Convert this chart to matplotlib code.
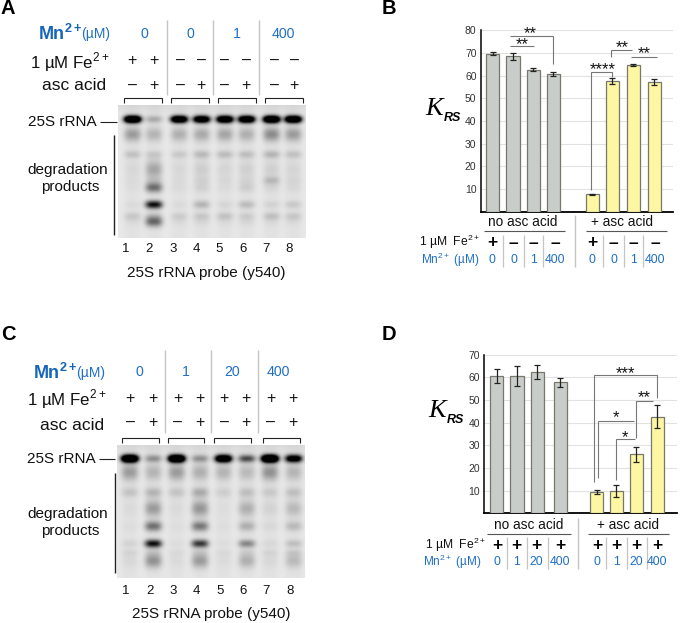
import numpy as np
import matplotlib
matplotlib.use("Agg")
import matplotlib.pyplot as plt

plt.rcParams['font.family'] = ['Liberation Sans', 'DejaVu Sans']
plt.rcParams['mathtext.fontset'] = 'custom'
plt.rcParams['mathtext.rm'] = 'Liberation Sans'
plt.rcParams['mathtext.bf'] = 'Liberation Sans:bold'

BLUE = '#1f6fc4'
GRAY = '#c9cdc9'
YELLOW = '#fdf6a2'

# bar values
b_vals = [69.7, 68.5, 62.7, 60.8, 7.7, 57.6, 64.8, 57.2]
b_errs = [0.7, 1.4, 0.5, 0.9, 0.2, 1.4, 0.5, 1.2]
b_x = [493, 513, 533, 553, 592, 612, 633.3, 654]
d_vals = [60.5, 60.5, 62.3, 57.8, 9.3, 9.7, 26, 42.7]
d_errs = [3.0, 4.4, 3.2, 2.1, 0.9, 2.7, 3.4, 5.1]
d_x = [497, 517, 537, 560, 596.7, 616, 636, 657]

# tick labels
b_fe = ['+', '–', '–', '–', '+', '–', '–', '–']
b_mn = ['0', '0', '1', '400', '0', '0', '1', '400']
d_fe = ['+'] * 8
d_mn = ['0', '1', '20', '400', '0', '1', '20', '400']
a_fe = ['+', '+', '–', '–', '–', '–', '–', '–']
c_fe = ['+'] * 8
asc = ['–', '+'] * 4
a_mn = ['0', '0', '1', '400']
c_mn = ['0', '1', '20', '400']
lanes = ['1', '2', '3', '4', '5', '6', '7', '8']

# gel band rows: y position, thickness
a_rows = [(120, 3.6), (135, 7), (155, 4), (170, 9), (181, 4), (188, 5), (205, 4), (216.5, 4), (222, 5)]
a_bands = [
    [1.7, .28, .13, .04, .02, .02, .03, .10, .03],
    [.22, .18, .10, .24, .06, .46, .85, .10, .48],
    [1.5, .20, .10, .04, .02, .03, .03, .08, .03],
    [1.4, .22, .16, .08, .05, .07, .18, .10, .04],
    [1.5, .24, .15, .05, .03, .03, .05, .12, .03],
    [1.5, .20, .14, .07, .04, .08, .15, .08, .04],
    [1.7, .34, .18, .07, .15, .05, .06, .13, .03],
    [1.6, .28, .13, .05, .04, .04, .10, .10, .03],
]
c_rows = [(459.3, 3.8), (473, 8), (493, 5), (509, 8), (526.7, 5), (544, 4), (553, 3.5), (561, 7)]
c_bands = [
    [1.8, .28, .12, .03, .02, .06, .05, .04],
    [.32, .18, .18, .28, .45, .85, .06, .32],
    [1.8, .28, .12, .03, .02, .02, .03, .03],
    [.32, .20, .22, .30, .42, .68, .06, .28],
    [1.5, .18, .08, .02, .02, .02, .03, .03],
    [.60, .16, .14, .20, .20, .36, .05, .20],
    [1.9, .32, .10, .06, .04, .04, .05, .04],
    [1.2, .18, .14, .16, .16, .14, .08, .16],
]
a_lane_x = [132.7, 154, 179.3, 201.7, 225, 246.7, 271.7, 293.3]
c_lane_x = [129.3, 152.7, 176, 199.3, 222.7, 246, 269, 292.7]

fig = plt.figure(figsize=(6.83, 6.23), dpi=100)
ov = fig.add_axes([0, 0, 1, 1], zorder=5)
ov.set_xlim(0, 683)
ov.set_ylim(623, 0)
ov.axis('off')
ov.patch.set_alpha(0)


def T(x, y, s, size=10.5, color='#111111', ha='center', **kw):
    ov.text(x, y, s, fontsize=size, color=color, ha=ha, va='center', **kw)


def L(xs, ys, color='#222222', lw=0.8):
    ov.plot(xs, ys, color=color, lw=lw, solid_capstyle='butt', solid_joinstyle='miter')


def gel(box, lane_x, rows, bands):
    x0, x1, y0, y1 = box
    xx, yy = np.meshgrid(np.arange(x0, x1, 0.5), np.arange(y0, y1, 0.5))
    dark = 0.09 + 0.05 * np.exp(-((yy - y0) / 8) ** 2)
    for lx, lane in zip(lane_x, bands):
        prof = np.exp(-(np.abs(xx - lx) / 8.5) ** 3)
        for (ry, th), v in zip(rows, lane):
            dark = dark + v * prof * np.exp(-((yy - ry) / th) ** 2)
        dark = dark + 0.025 * prof
    ax = fig.add_axes([x0 / 683, 1 - y1 / 623, (x1 - x0) / 683, (y1 - y0) / 623])
    ax.imshow(np.clip(dark, 0, 1), cmap='gray_r', vmin=0, vmax=1, aspect='auto',
              interpolation='bilinear')
    ax.axis('off')


def bars(box, x, vals, errs, ymax, colors):
    x0, x1, ytop, ybot = box
    ax = fig.add_axes([x0 / 683, 1 - ybot / 623, (x1 - x0) / 683, (ybot - ytop) / 623])
    ax.set_xlim(x0, x1)
    ax.set_ylim(0, ymax)
    ax.bar(x, vals, width=13, color=colors, edgecolor='#77776c', linewidth=0.9, zorder=3)
    ax.errorbar(x, vals, yerr=errs, fmt='none', ecolor='#222222', elinewidth=0.9,
                capsize=2.4, capthick=0.9, zorder=4)
    ax.set_yticks(np.arange(10, ymax + 1, 10))
    ax.set_xticks([])
    ax.tick_params(axis='y', length=0, labelsize=7.5, labelcolor='#333333', pad=3)
    ax.grid(axis='y', color='#e2e2e2', lw=0.8, zorder=0)
    for s in ['top', 'right']:
        ax.spines[s].set_visible(False)
    ax.spines['left'].set_linewidth(1.1)
    ax.spines['bottom'].set_linewidth(1.3)
    ax.patch.set_alpha(0)


def stars(x, y, s):
    # the glyph sits high in its box
    T(x, y + 2.5, s, size=12)


# panel letters
for x, y, s in [(7.5, 9, 'A'), (389, 8, 'B'), (8, 335, 'C'), (389, 335, 'D')]:
    T(x, y, s, size=14.5, color='black', weight='bold')

# gels
gel((118.3, 306, 105, 238.3), a_lane_x, a_rows, a_bands)
gel((116.7, 304, 445, 578.3), c_lane_x, c_rows, c_bands)

# gel A labels
T(38, 34, 'Mn$^{\\mathbf{2+}}$', size=13, color='#1565b8', ha='left', weight='bold')
T(81, 34, '(µM)', size=10, color=BLUE, ha='left')
for x, s in zip([144.7, 190.7, 236.7, 283.3], a_mn):
    T(x, 34, s, size=10.2, color=BLUE)
for x in [166.7, 213.3, 259.3]:
    L([x, x], [20, 95], color='#c4c4c4', lw=1)
T(110, 62, '1 µM Fe$^{2+}$', size=12.2, ha='right')
T(106, 85, 'asc acid', size=12.5, ha='right')
for x, s, t in zip([132.3, 154, 180, 201.3, 225, 246, 274, 294], a_fe, asc):
    T(x, 60.5, s, size=11.5)
    T(x, 85.5, t, size=11.5)
for l, r in [(124.3, 162.3), (171, 209.3), (218, 256.3), (265, 303.3)]:
    L([l, l, r, r], [103, 98.3, 98.3, 103])
T(62.3, 121.5, '25S rRNA', size=11)
L([100, 116.7], [121.5, 121.5])
L([114, 114], [135, 235], lw=1)
T(67.5, 170, 'degradation', size=11)
T(70, 186.7, 'products', size=11)
for x, s in zip([125.7, 149.3, 172.7, 196, 219.3, 242.7, 266, 289.3], lanes):
    T(x, 249.3, s, size=9.5)
T(206.7, 272.7, '25S rRNA probe (y540)', size=11)

# gel C labels
T(33, 372.5, 'Mn$^{\\mathbf{2+}}$', size=13, color='#1565b8', ha='left', weight='bold')
T(76, 372.5, '(µM)', size=10, color=BLUE, ha='left')
for x, s in zip([139.7, 185.7, 232, 278], c_mn):
    T(x, 372.5, s, size=10.2, color=BLUE)
for x in [164.7, 211.3, 258.3]:
    L([x, x], [350, 433], color='#c4c4c4', lw=1)
T(107, 399, '1 µM Fe$^{2+}$', size=12.2, ha='right')
T(104, 425, 'asc acid', size=12.5, ha='right')
for x, s, t in zip([130, 152.7, 177.7, 200, 224, 245.7, 271, 293.3], c_fe, asc):
    T(x, 398.5, s, size=11.5)
    T(x, 422, t, size=11.5)
for l, r in [(121.7, 158.7), (167.7, 204.3), (214, 250.7), (263.3, 300)]:
    L([l, l, r, r], [442.7, 437.7, 437.7, 442.7])
T(61, 459.3, '25S rRNA', size=11)
L([99.3, 115], [459.3, 459.3])
L([115.3, 115.3], [472.7, 572.7], lw=1)
T(68, 514.3, 'degradation', size=11)
T(70, 531, 'products', size=11)
for x, s in zip([126, 149.7, 173, 196.3, 219.7, 243, 266.3, 289.7], lanes):
    T(x, 590.7, s, size=9.5)
T(211.7, 614, '25S rRNA probe (y540)', size=11)

# panel B
bars((480.7, 673, 30.3, 211.7), b_x, b_vals, b_errs, 80, [GRAY] * 4 + [YELLOW] * 4)
T(434, 109, 'K', size=19, color='black', family='Liberation Serif', style='italic')
T(452, 118, 'RS', size=9, color='black', weight='bold', style='italic')
LG = '#777777'
L([510, 552.7, 552.7], [36, 36, 64.3], color=LG)
L([510, 534.3], [46.3, 46.3], color=LG)
L([591.3, 591.3, 612.3, 612.3], [190, 72, 72, 77], color=LG)
L([611.3, 611.3, 632.3], [57.3, 49.7, 49.7], color=LG)
L([631, 657.3], [56.7, 56.7], color=LG)
for x, y, s in [(530.7, 30.7, '**'), (522.7, 41.7, '**'), (602.3, 67, '****'), (622, 44.7, '**'), (644.3, 51, '**')]:
    stars(x, y, s)
T(522.3, 221.7, 'no asc acid', size=9.8)
T(621.7, 222.3, '+ asc acid', size=9.8)
L([484.3, 565], [231, 231], color='#555555')
L([586, 666.7], [231, 231], color='#555555')
L([574.7, 574.7], [215, 266.7], color='#c4c4c4', lw=1)
T(480, 242, '1 µM  Fe$^{2+}$', size=8.7, ha='right')
T(479.3, 260, 'Mn$^{2+}$ (µM)', size=8.5, color=BLUE, ha='right')
b_sx = [492.3, 513.7, 533.3, 555, 592.3, 613.7, 633.3, 655]
for x, s, m in zip(b_sx, b_fe, b_mn):
    T(x, 243, s, size=12.5, color='black', weight='bold')
    T(x, 260, m, size=8.8, color=BLUE)
for x in [503, 523.7, 543.3, 602.7, 623.7, 643]:
    L([x, x], [235, 266.7], color='#c4c4c4', lw=0.9)

# panel D
bars((484.3, 676.7, 354.7, 513.3), d_x, d_vals, d_errs, 70, [GRAY] * 4 + [YELLOW] * 4)
T(437.5, 411, 'K', size=19, color='black', family='Liberation Serif', style='italic')
T(455, 420, 'RS', size=9, color='black', weight='bold', style='italic')
L([594, 594, 657.3, 657.3], [481.7, 375, 375, 398.3], color=LG)
L([635.7, 635.7, 652.7], [438.3, 400.7, 400.7], color=LG)
L([598.3, 598.3, 634], [478.3, 420.7, 420.7], color=LG)
L([616.3, 616.3, 635], [480, 439.3, 439.3], color=LG)
for x, y, s in [(625.7, 370.7, '***'), (644.3, 395.3, '**'), (615.7, 415.3, '*'), (625.3, 435.3, '*')]:
    stars(x, y, s)
T(528.7, 524.7, 'no asc acid', size=9.8)
T(627.7, 525, '+ asc acid', size=9.8)
L([486.7, 570.7], [534, 534], color='#555555')
L([588.3, 668.7], [534, 534], color='#555555')
L([577.7, 577.7], [517.7, 569.3], color='#c4c4c4', lw=1)
T(486, 545, '1 µM  Fe$^{2+}$', size=8.7, ha='right')
T(481, 561.7, 'Mn$^{2+}$ (µM)', size=8.5, color=BLUE, ha='right')
d_sx = [497, 516, 536.7, 560, 597, 616.3, 636.3, 657.3]
for x, s, m in zip(d_sx, d_fe, d_mn):
    T(x, 545.5, s, size=12.5, color='black', weight='bold')
    T(x, 561.7, m, size=8.8, color=BLUE)
for x in [507, 526.7, 548.3, 606.3, 626.7, 646.7]:
    L([x, x], [537, 569.3], color='#c4c4c4', lw=0.9)

fig.savefig('out.png', dpi=100)
